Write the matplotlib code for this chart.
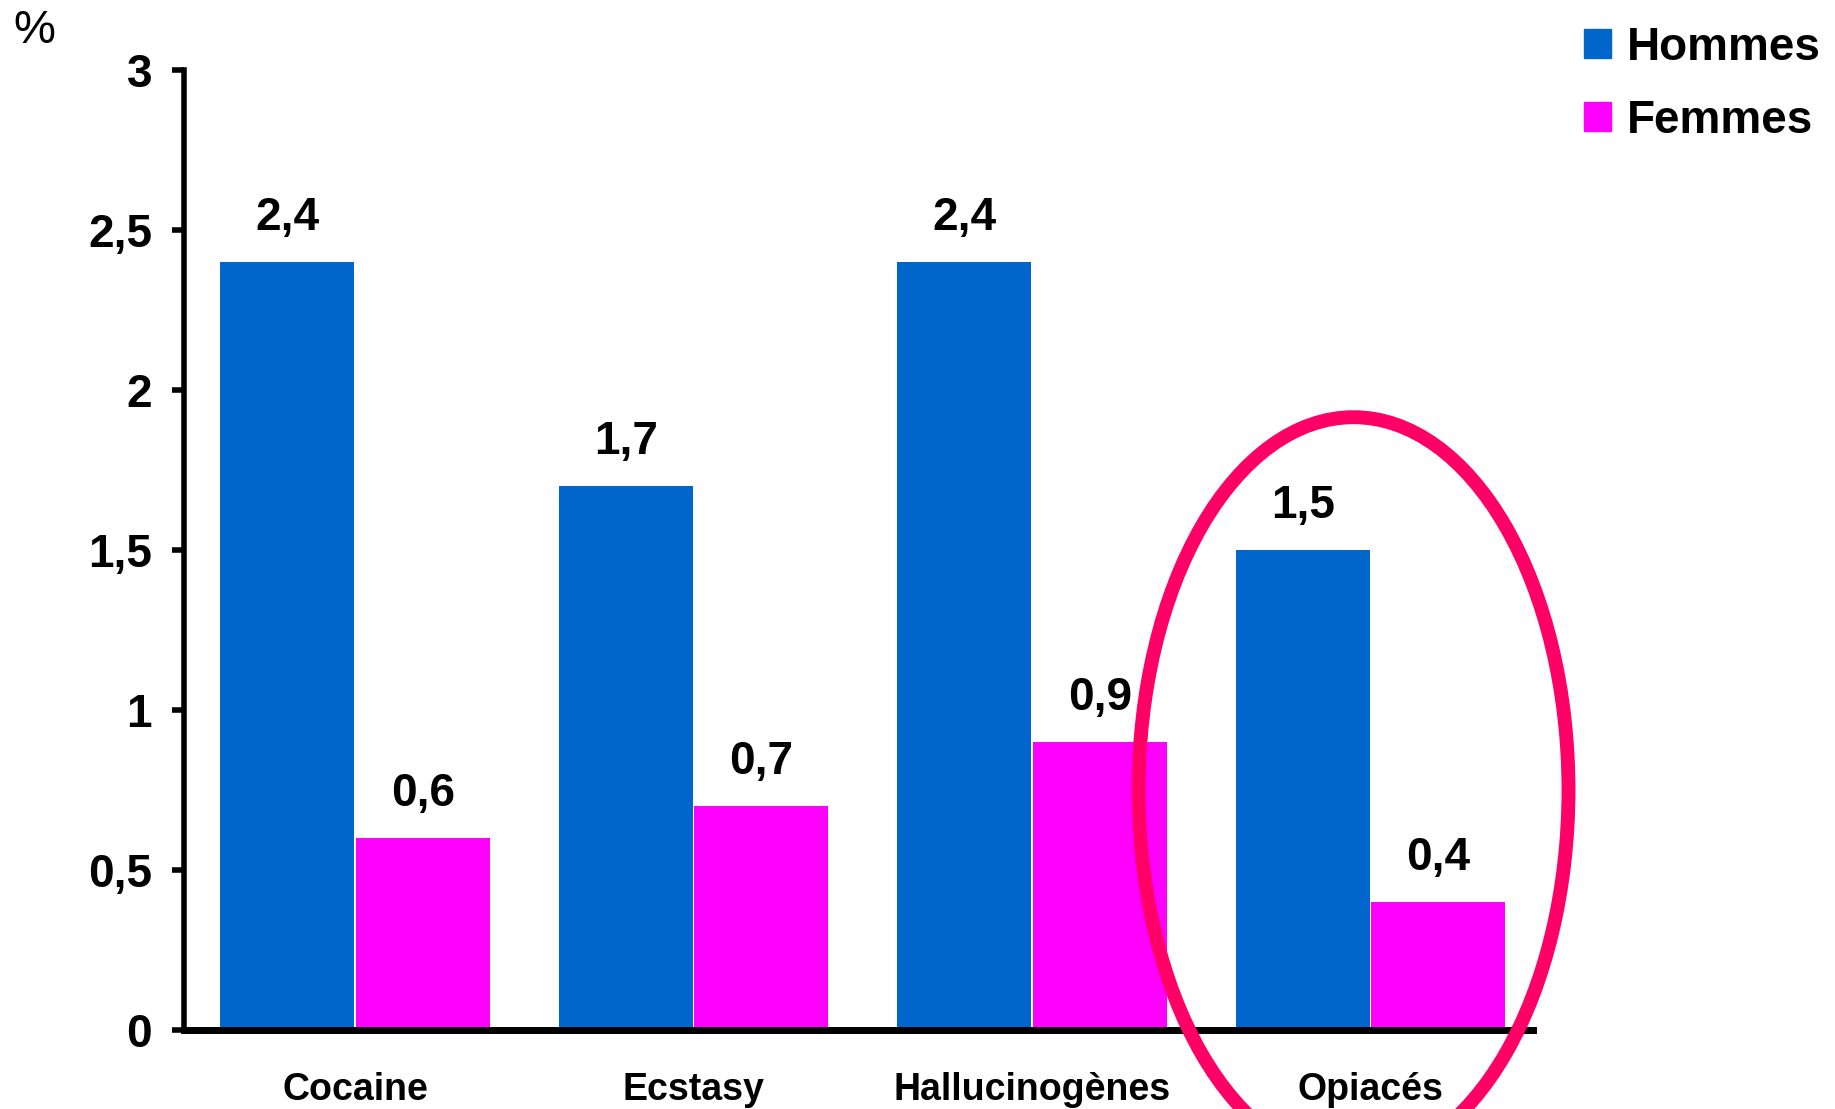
import matplotlib
matplotlib.use('Agg')
import matplotlib.pyplot as plt
import numpy as np
from matplotlib.patches import Ellipse, Patch

plt.rcParams['font.family'] = ['Liberation Sans', 'DejaVu Sans']
plt.rcParams['font.weight'] = 'bold'

# Data
categories = ['Cocaine', 'Ecstasy', 'Hallucinogènes', 'Opiacés']
hommes = [2.4, 1.7, 2.4, 1.5]
femmes = [0.6, 0.7, 0.9, 0.4]
value_labels_h = ['2,4', '1,7', '2,4', '1,5']
value_labels_f = ['0,6', '0,7', '0,9', '0,4']
yticks = [0, 0.5, 1, 1.5, 2, 2.5, 3]
ytick_labels = ['0', '0,5', '1', '1,5', '2', '2,5', '3']
highlight = 'Opiacés'

blue = '#0066CC'
magenta = '#FF00FF'
ring = '#FF0066'

fig = plt.figure(figsize=(18.35, 11.09), dpi=100)
ax = fig.add_axes([0.1003, 0.0712, 0.7351, 0.8657])

x = np.arange(len(categories))
w = 0.395
bh = ax.bar(x - 0.2, hommes, w, color=blue, zorder=2)
bf = ax.bar(x + 0.2, femmes, w, color=magenta, zorder=2)

# value labels above bars
for bars, labels in [(bh, value_labels_h), (bf, value_labels_f)]:
    for rect, lab in zip(bars, labels):
        ax.annotate(lab, (rect.get_x() + rect.get_width() / 2, rect.get_height()),
                    xytext=(0, 23), textcoords='offset points', ha='center', va='baseline',
                    fontsize=33, fontweight='bold')

# ring around the highlighted group
i = categories.index(highlight)
ell = Ellipse((x[i] - 0.05, hommes[i] / 2), 1.27, 2.33, fill=False,
              edgecolor=ring, linewidth=10, clip_on=False, zorder=5)
ax.add_patch(ell)

ax.set_xlim(-0.505, 3.48)
ax.set_ylim(0, 3)
ax.set_yticks(yticks)
ax.set_yticklabels(ytick_labels, fontsize=33, fontweight='bold')
ax.set_xticks(x)
ax.set_xticklabels(categories, fontsize=27, fontweight='bold')
ax.tick_params(axis='x', length=0, pad=30)
ax.tick_params(axis='y', length=9, width=4, pad=14, direction='out')

for s in ['top', 'right']:
    ax.spines[s].set_visible(False)
ax.spines['left'].set_linewidth(4)
ax.spines['bottom'].set_linewidth(5)

fig.text(0.0185, 0.972, '%', fontsize=34, fontweight='normal', ha='center', va='center')

handles = [Patch(color=blue, label='Hommes'), Patch(color=magenta, label='Femmes')]
fig.legend(handles=handles, loc='upper left', bbox_to_anchor=(0.853, 0.993),
           frameon=False, prop={'size': 33, 'weight': 'bold'},
           handlelength=0.6, handleheight=0.6, handletextpad=0.35,
           labelspacing=0.63, borderaxespad=0)

fig.savefig('out.png', dpi=100)
